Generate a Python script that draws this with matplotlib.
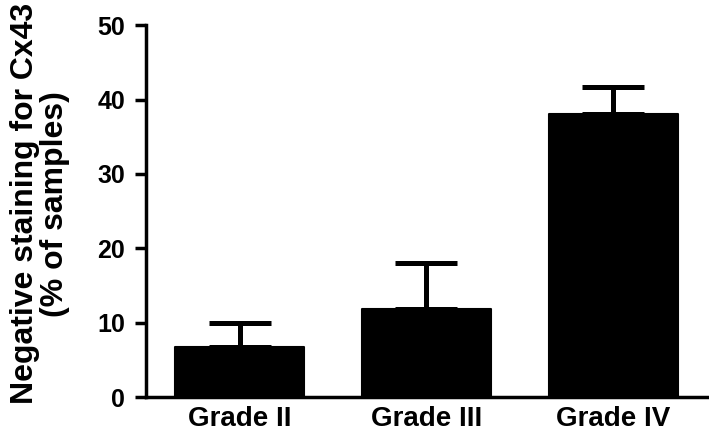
import numpy as np
import matplotlib.pyplot as plt

plt.rcParams['font.family'] = ['Liberation Sans', 'DejaVu Sans']
plt.rcParams['font.weight'] = 'bold'

# data
grades = ["Grade II", "Grade III", "Grade IV"]
neg_pct = [6.7, 11.9, 38.1]
sem = [3.3, 6.1, 3.6]
y_ticks = [0, 10, 20, 30, 40, 50]

fig = plt.figure(figsize=(7.09, 4.33), dpi=100)
ax = fig.add_axes([0.206, 0.0825, 0.791, 0.8595])

x = np.arange(len(grades))
ax.bar(x, neg_pct, width=0.69, color='black', edgecolor='black',
       linewidth=1.5, joinstyle='round', zorder=2)
ax.errorbar(x, neg_pct, yerr=[np.zeros(len(sem)), sem], fmt='none',
            ecolor='black', elinewidth=3.6, capsize=22, capthick=3.6,
            zorder=1)

ax.set_xlim(-0.5, 2.5)
ax.set_ylim(0, 50)
ax.set_yticks(y_ticks)
ax.set_xticks(x)
ax.set_xticklabels(grades, fontsize=20, fontweight='bold', va='baseline')
ax.tick_params(axis='y', labelsize=18, width=2.5, length=8, pad=7)
ax.tick_params(axis='x', length=0, pad=20.5)
for lab in ax.get_yticklabels():
    lab.set_fontweight('bold')

for s in ['top', 'right']:
    ax.spines[s].set_visible(False)
for s in ['left', 'bottom']:
    ax.spines[s].set_linewidth(2.5)

ax.set_ylabel("Negative staining for Cx43\n(% of samples)", fontsize=23,
              fontweight='bold', linespacing=1.0)
ax.yaxis.set_label_coords(-0.136, 0.52)

fig.savefig("out.png", dpi=100)
